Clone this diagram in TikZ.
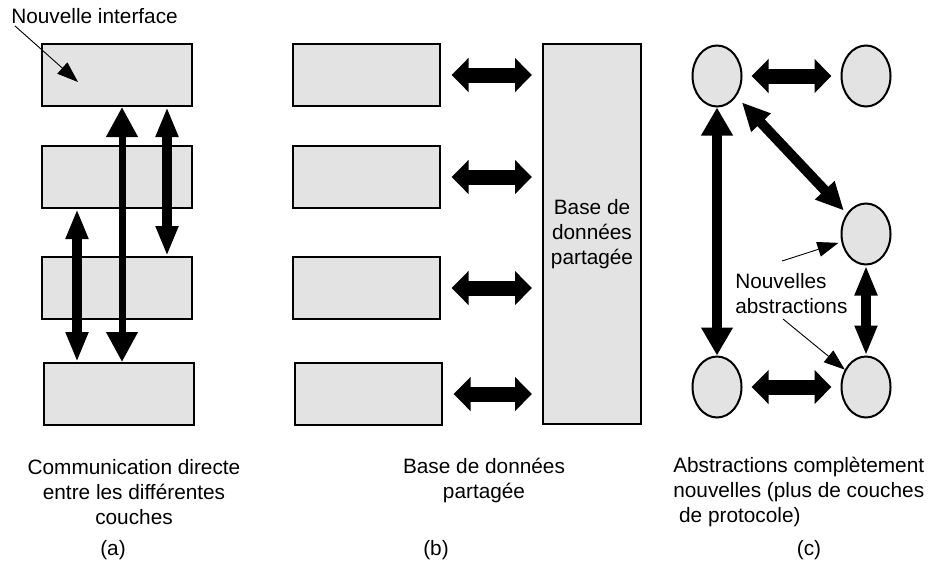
\documentclass[tikz,border=0pt]{standalone}
\usepackage{fontspec}
\setmainfont{Liberation Sans}
\usepackage{xcolor}
\usepackage{tikz}
\usetikzlibrary{arrows.meta}
\usetikzlibrary{shapes.geometric}
\usetikzlibrary{positioning}
\definecolor{fond}{RGB}{227,227,227}

\begin{document}
\begin{tikzpicture}[x=1pt,y=-1pt,-,auto,semithick,font=\fontsize{20.8}{25}\selectfont]
 	 \tikzstyle{couche}=[draw=black, fill=fond, line width=2pt, minimum width=150pt, minimum height=62pt, inner sep=0pt]
 	 \tikzstyle{abstr}=[ellipse, draw=black, fill=fond, line width=2pt, minimum width=49pt, minimum height=61pt, inner sep=0pt]
 	 \tikzstyle{grosse}=[line width=15pt, {Triangle[width=33pt,length=17pt]}-{Triangle[width=33pt,length=17pt]}]
 	 \tikzstyle{longue}=[line width=7pt, {Triangle[width=30pt,length=30pt]}-{Triangle[width=30pt,length=30pt]}]
 	 \tikzstyle{fine}=[line width=10pt, {Triangle[width=21pt,length=30pt]}-{Triangle[width=21pt,length=30pt]}]
 	 \tikzstyle{note}=[line width=0.9pt, -{Triangle[width=15pt,length=21pt]}]
 	 \useasboundingbox (0,0) rectangle (931,568);

			% (a) et (b) : les couches
			\foreach \i/\y/\dx in {1/75/0,2/177/0,3/288/0,4/394/2}{
				\node[couche] (a\i) at (117+\dx,\y) {};
				\node[couche, minimum width=147pt] (b\i) at (366+\dx,\y) {};
				}
			\node[couche, minimum width=98pt, minimum height=380pt, align=center] (base) at (592,234) {Base de\\données\\partagée};

			\draw[longue] ([xshift=5pt]a1.south) -- ([xshift=3pt]a4.north);
			\draw[fine] ([xshift=50pt]a1.south) -- ([xshift=50pt]a3.north);
			\draw[fine] ([xshift=-40pt]a2.south) -- ([xshift=-42pt]a4.north);

			\node[anchor=west, inner sep=0pt] (ni) at (11,16) {Nouvelle interface};
			\coordinate (pi) at (78,82);
			\draw[note] ([shift={(4,2)}]ni.south west) -- (pi);

		 	\foreach \i in {1,...,4}{
		 		\draw[grosse, shorten <=11pt, shorten >=10pt] (b\i.east) -- (b\i.east -| base.west);
		 		}

			% (c) : les abstractions
			\node[abstr] (c1) at (717,76) {};
			\node[abstr] (c2) at (866,76) {};
			\node[abstr] (c3) at (866,234) {};
			\node[abstr] (c4) at (717,387) {};
			\node[abstr] (c5) at (866,387) {};

			\draw[grosse, shorten <=9pt, shorten >=9pt] (c1) -- (c2);
			\draw[grosse, shorten <=9pt, shorten >=9pt] (c4) -- (c5);
			\draw[fine, {Triangle[width=30pt,length=28pt]}-{Triangle[width=30pt,length=28pt]}] (c1) -- (c4);
			\draw[fine, {Triangle[width=25pt,length=28pt]}-{Triangle[width=25pt,length=28pt]}, shorten <=8pt, shorten >=4pt] (c1) -- (c3);
			\draw[fine] (c3) -- (c5);

			\node[anchor=west, align=left, inner sep=0pt] (na) at (735,294) {Nouvelles\\abstractions};
			\coordinate (n1) at (782,261);
			\coordinate (n2) at (783,319);
			\draw[note, shorten >=3pt] (n1) -- (c3);
			\draw[note] (n2) -- (c5);

			% legendes
			\node[align=center, inner sep=0pt] (capa) at (134,492) {Communication directe\\entre les différentes\\couches};
			\node[align=center, inner sep=0pt] (capb) at (484,480) {Base de données\\partagée};
			\node[anchor=west, align=left, inner sep=0pt] (capc) at (673,492) {Abstractions complètement\\nouvelles (plus de couches\\\hspace*{0.28em}de protocole)};
			\node (la) at (113,550) {(a)};
			\node (lb) at (436,550) {(b)};
			\node (lc) at (809,550) {(c)};
 	\end{tikzpicture}
\end{document}
